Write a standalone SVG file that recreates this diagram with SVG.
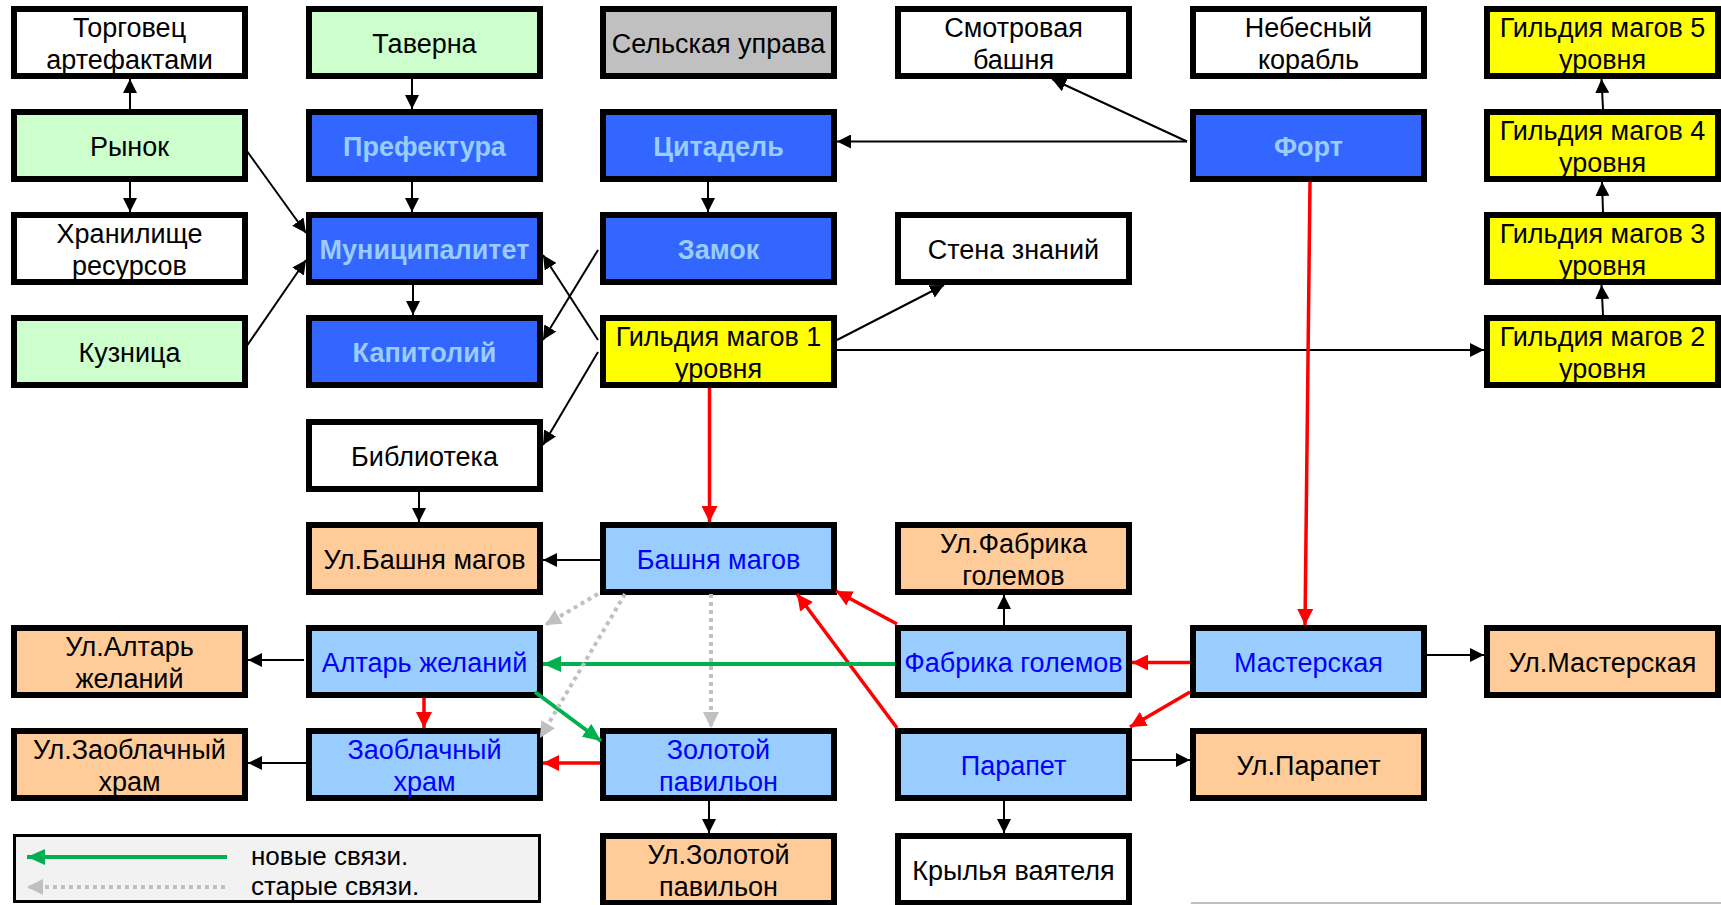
<svg xmlns="http://www.w3.org/2000/svg" width="1721" height="905" viewBox="0 0 1721 905">
<style>
  .box rect{stroke:#000;stroke-width:6}
  text{font-family:"Liberation Sans",Arial,sans-serif;font-size:27px;text-anchor:middle;fill:#000}
  .green rect{fill:#CCFFCC}
  .white rect{fill:#FFFFFF}
  .gray rect{fill:#C0C0C0}
  .yellow rect{fill:#FFFF00}
  .orange rect{fill:#FFCC99}
  .blue rect{fill:#3366FF}
  .blue text{fill:#99CCFF;font-weight:bold}
  .lblue rect{fill:#99CCFF}
  .lblue text{fill:#0000FF}
  .k{stroke:#000;stroke-width:2;fill:none;marker-end:url(#ak)}
  .r{stroke:#FF0000;stroke-width:3.5;fill:none;marker-end:url(#ar)}
  .g{stroke:#00B050;stroke-width:4;fill:none;marker-end:url(#ag)}
  .d{stroke:#C0C0C0;stroke-width:4;stroke-dasharray:4 4;fill:none;marker-end:url(#ad)}
  .leg text{font-size:26px;text-anchor:start}
</style>
<defs>
  <marker id="ak" markerUnits="userSpaceOnUse" markerWidth="14" markerHeight="14" refX="14" refY="7" orient="auto"><path d="M0,0 L14,7 L0,14 z" fill="#000"/></marker>
  <marker id="ar" markerUnits="userSpaceOnUse" markerWidth="16" markerHeight="16" refX="16" refY="8" orient="auto"><path d="M0,0 L16,8 L0,16 z" fill="#FF0000"/></marker>
  <marker id="ag" markerUnits="userSpaceOnUse" markerWidth="18" markerHeight="16" refX="18" refY="8" orient="auto"><path d="M0,0 L18,8 L0,16 z" fill="#00B050"/></marker>
  <marker id="ad" markerUnits="userSpaceOnUse" markerWidth="16" markerHeight="16" refX="16" refY="8" orient="auto"><path d="M0,0 L16,8 L0,16 z" fill="#C0C0C0"/></marker>
</defs>

<!-- Row 1 -->
<g id="torgovets" class="box white"><rect x="14" y="9" width="231" height="67"/><text x="129.5" y="37">Торговец</text><text x="129.5" y="69">артефактами</text></g>
<g id="taverna" class="box green"><rect x="309" y="9" width="231" height="67"/><text x="424.5" y="53">Таверна</text></g>
<g id="selskaya" class="box gray"><rect x="603" y="9" width="231" height="67"/><text x="718.5" y="53">Сельская управа</text></g>
<g id="smotrovaya" class="box white"><rect x="898" y="9" width="231" height="67"/><text x="1013.5" y="37">Смотровая</text><text x="1013.5" y="69">башня</text></g>
<g id="nebesny" class="box white"><rect x="1193" y="9" width="231" height="67"/><text x="1308.5" y="37">Небесный</text><text x="1308.5" y="69">корабль</text></g>
<g id="gild5" class="box yellow"><rect x="1487" y="9" width="231" height="67"/><text x="1602.5" y="37">Гильдия магов 5</text><text x="1602.5" y="69">уровня</text></g>

<!-- Row 2 -->
<g id="rynok" class="box green"><rect x="14" y="112" width="231" height="67"/><text x="129.5" y="156">Рынок</text></g>
<g id="prefektura" class="box blue"><rect x="309" y="112" width="231" height="67"/><text x="424.5" y="156">Префектура</text></g>
<g id="tsitadel" class="box blue"><rect x="603" y="112" width="231" height="67"/><text x="718.5" y="156">Цитадель</text></g>
<g id="fort" class="box blue"><rect x="1193" y="112" width="231" height="67"/><text x="1308.5" y="156">Форт</text></g>
<g id="gild4" class="box yellow"><rect x="1487" y="112" width="231" height="67"/><text x="1602.5" y="140">Гильдия магов 4</text><text x="1602.5" y="172">уровня</text></g>

<!-- Row 3 -->
<g id="khranilishche" class="box white"><rect x="14" y="215" width="231" height="67"/><text x="129.5" y="243">Хранилище</text><text x="129.5" y="275">ресурсов</text></g>
<g id="munitsipalitet" class="box blue"><rect x="309" y="215" width="231" height="67"/><text x="424.5" y="259">Муниципалитет</text></g>
<g id="zamok" class="box blue"><rect x="603" y="215" width="231" height="67"/><text x="718.5" y="259">Замок</text></g>
<g id="stena" class="box white"><rect x="898" y="215" width="231" height="67"/><text x="1013.5" y="259">Стена знаний</text></g>
<g id="gild3" class="box yellow"><rect x="1487" y="215" width="231" height="67"/><text x="1602.5" y="243">Гильдия магов 3</text><text x="1602.5" y="275">уровня</text></g>

<!-- Row 4 -->
<g id="kuznitsa" class="box green"><rect x="14" y="318" width="231" height="67"/><text x="129.5" y="362">Кузница</text></g>
<g id="kapitoliy" class="box blue"><rect x="309" y="318" width="231" height="67"/><text x="424.5" y="362">Капитолий</text></g>
<g id="gild1" class="box yellow"><rect x="603" y="318" width="231" height="67"/><text x="718.5" y="346">Гильдия магов 1</text><text x="718.5" y="378">уровня</text></g>
<g id="gild2" class="box yellow"><rect x="1487" y="318" width="231" height="67"/><text x="1602.5" y="346">Гильдия магов 2</text><text x="1602.5" y="378">уровня</text></g>

<!-- Row 5 -->
<g id="biblioteka" class="box white"><rect x="309" y="422" width="231" height="67"/><text x="424.5" y="466">Библиотека</text></g>

<!-- Row 6 -->
<g id="ul_bashnya" class="box orange"><rect x="309" y="525" width="231" height="67"/><text x="424.5" y="569">Ул.Башня магов</text></g>
<g id="bashnya" class="box lblue"><rect x="603" y="525" width="231" height="67"/><text x="718.5" y="569">Башня магов</text></g>
<g id="ul_fabrika" class="box orange"><rect x="898" y="525" width="231" height="67"/><text x="1013.5" y="553">Ул.Фабрика</text><text x="1013.5" y="585">големов</text></g>

<!-- Row 7 -->
<g id="ul_altar" class="box orange"><rect x="14" y="628" width="231" height="67"/><text x="129.5" y="656">Ул.Алтарь</text><text x="129.5" y="688">желаний</text></g>
<g id="altar" class="box lblue"><rect x="309" y="628" width="231" height="67"/><text x="424.5" y="672">Алтарь желаний</text></g>
<g id="fabrika" class="box lblue"><rect x="898" y="628" width="231" height="67"/><text x="1013.5" y="672">Фабрика големов</text></g>
<g id="masterskaya" class="box lblue"><rect x="1193" y="628" width="231" height="67"/><text x="1308.5" y="672">Мастерская</text></g>
<g id="ul_masterskaya" class="box orange"><rect x="1487" y="628" width="231" height="67"/><text x="1602.5" y="672">Ул.Мастерская</text></g>

<!-- Row 8 -->
<g id="ul_zaoblachny" class="box orange"><rect x="14" y="731" width="231" height="67"/><text x="129.5" y="759">Ул.Заоблачный</text><text x="129.5" y="791">храм</text></g>
<g id="zaoblachny" class="box lblue"><rect x="309" y="731" width="231" height="67"/><text x="424.5" y="759">Заоблачный</text><text x="424.5" y="791">храм</text></g>
<g id="zolotoy" class="box lblue"><rect x="603" y="731" width="231" height="67"/><text x="718.5" y="759">Золотой</text><text x="718.5" y="791">павильон</text></g>
<g id="parapet" class="box lblue"><rect x="898" y="731" width="231" height="67"/><text x="1013.5" y="775">Парапет</text></g>
<g id="ul_parapet" class="box orange"><rect x="1193" y="731" width="231" height="67"/><text x="1308.5" y="775">Ул.Парапет</text></g>

<!-- Row 9 -->
<g id="ul_zolotoy" class="box orange"><rect x="603" y="836" width="231" height="67"/><text x="718.5" y="864">Ул.Золотой</text><text x="718.5" y="896">павильон</text></g>
<g id="krylya" class="box white"><rect x="898" y="836" width="231" height="67"/><text x="1013.5" y="880">Крылья ваятеля</text></g>

<!-- Connectors -->
<g id="connectors">
  <line class="k" x1="130" y1="109" x2="130" y2="79"/>
  <line class="k" x1="130" y1="182" x2="130" y2="212"/>
  <line class="k" x1="412" y1="79" x2="412" y2="109"/>
  <line class="k" x1="412" y1="182" x2="412" y2="212"/>
  <line class="k" x1="413" y1="285" x2="413" y2="315"/>
  <line class="k" x1="244" y1="147" x2="306" y2="233"/>
  <line class="k" x1="244" y1="350" x2="306" y2="260"/>
  <line class="k" x1="598" y1="340" x2="543" y2="255"/>
  <line class="k" x1="598" y1="250" x2="543" y2="340"/>
  <line class="k" x1="598" y1="352" x2="543" y2="445"/>
  <line class="k" x1="708" y1="182" x2="708" y2="212"/>
  <line class="k" x1="1187" y1="141.5" x2="837" y2="141.5"/>
  <line class="k" x1="1187" y1="141.5" x2="1052" y2="79"/>
  <line class="k" x1="837" y1="340" x2="944" y2="285"/>
  <line class="k" x1="837" y1="350" x2="1484" y2="350"/>
  <line class="k" x1="1603" y1="315" x2="1601.5" y2="285"/>
  <line class="k" x1="1603" y1="212" x2="1602" y2="182"/>
  <line class="k" x1="1603" y1="109" x2="1601.5" y2="79"/>
  <line class="k" x1="419" y1="492" x2="419" y2="522"/>
  <line class="k" x1="600" y1="560" x2="543" y2="560"/>
  <line class="k" x1="1004" y1="625" x2="1004" y2="595"/>
  <line class="k" x1="304" y1="660" x2="248" y2="660"/>
  <line class="k" x1="306" y1="763" x2="248" y2="763"/>
  <line class="k" x1="709" y1="801" x2="709" y2="833"/>
  <line class="k" x1="1004" y1="801" x2="1004" y2="833"/>
  <line class="k" x1="1132" y1="760" x2="1190" y2="760"/>
  <line class="k" x1="1427" y1="655" x2="1484" y2="655"/>

  <line class="r" x1="1310" y1="182" x2="1305" y2="625"/>
  <line class="r" x1="709.5" y1="388" x2="709.5" y2="522"/>
  <line class="r" x1="897" y1="624" x2="836" y2="591"/>
  <line class="r" x1="897" y1="728" x2="797" y2="594"/>
  <line class="r" x1="1190" y1="662.5" x2="1132" y2="662.5"/>
  <line class="r" x1="1190" y1="692" x2="1130" y2="727"/>
  <line class="r" x1="424" y1="698" x2="424" y2="728"/>
  <line class="r" x1="600" y1="763" x2="543" y2="763"/>

  <line class="g" x1="895" y1="664" x2="543" y2="664"/>
  <line class="g" x1="535" y1="692" x2="601" y2="741"/>

  <line class="d" x1="598" y1="594" x2="545" y2="625"/>
  <line class="d" x1="625" y1="594" x2="540" y2="738"/>
  <line class="d" x1="711" y1="594" x2="711" y2="728"/>
</g>

<!-- Legend -->
<g id="legend" class="leg">
  <rect x="14.5" y="835.5" width="525" height="66" fill="#F2F2F2" stroke="#000" stroke-width="3"/>
  <line class="g" x1="227" y1="857" x2="27" y2="857"/>
  <line class="d" x1="225" y1="887" x2="27" y2="887"/>
  <text x="251" y="865">новые связи.</text>
  <text x="251" y="895">старые связи.</text>
</g>

<line x1="1191" y1="903" x2="1721" y2="903" stroke="#C0C0C0" stroke-width="2"/>
</svg>
